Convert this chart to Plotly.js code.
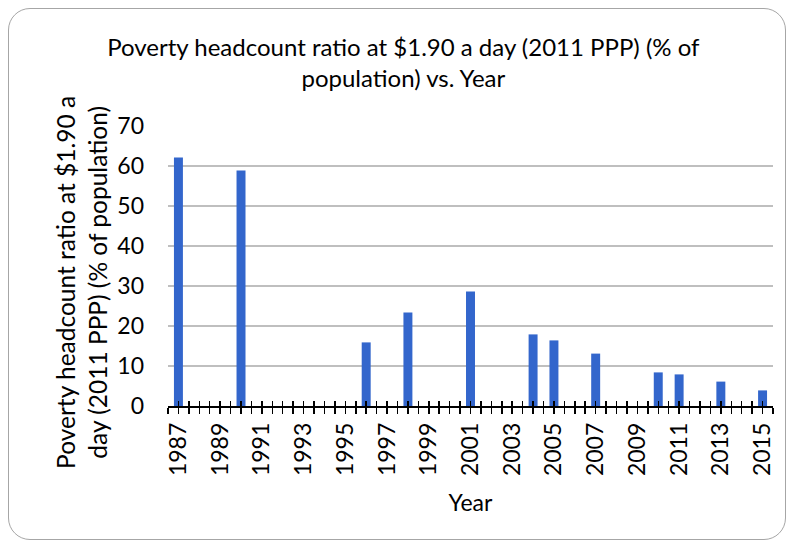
<!DOCTYPE html>
<html>
<head>
<meta charset="utf-8">
<script src="https://cdn.plot.ly/plotly-3.0.1.min.js"></script>
<style>
  html, body { margin: 0; padding: 0; background: #ffffff; }
  #wrap { position: relative; width: 794px; height: 548px; }
  #frame {
    position: absolute; left: 8px; top: 8px; width: 776px; height: 530px;
    border: 1.5px solid #a6a6a6; border-radius: 22px; pointer-events: none;
  }
  #chart { position: absolute; left: 0; top: 0; width: 794px; height: 548px; }
</style>
</head>
<body>
<div id="wrap">
  <div id="chart"></div>
  <div id="frame"></div>
</div>
<script>
// Poverty headcount ratio at $1.90 a day (2011 PPP), % of population
const years = [1987, 1990, 1996, 1998, 2001, 2004, 2005, 2007, 2010, 2011, 2013, 2015];
const ratio = [62.1, 58.9, 15.9, 23.4, 28.6, 17.9, 16.4, 13.1, 8.4, 7.9, 6.1, 3.9];

const yearLabels = ['1987', '1989', '1991', '1993', '1995', '1997', '1999',
                    '2001', '2003', '2005', '2007', '2009', '2011', '2013', '2015'];

const FONT = 'Lato, "Open Sans", sans-serif';
const xRange = [1986.5, 2015.5];

// half-year tick positions across the axis; labels only on the labelled years
const tickPos = [];
const tickTxt = [];
for (let t = xRange[0]; t <= xRange[1] + 1e-9; t += 0.5) {
  tickPos.push(t);
  const s = String(t);
  tickTxt.push(yearLabels.includes(s) ? s : '');
}

const bars = {
  type: 'bar',
  x: years,
  y: ratio,
  width: 0.43,
  marker: { color: '#3366cc' },
  hoverinfo: 'x+y'
};

const layout = {
  width: 794,
  height: 548,
  paper_bgcolor: 'rgba(0,0,0,0)',
  plot_bgcolor: 'rgba(0,0,0,0)',
  margin: { l: 168, r: 21, t: 126, b: 142, pad: 0 },
  showlegend: false,
  font: { family: FONT, size: 23, color: '#000000' },
  title: {
    text: 'Poverty headcount ratio at $1.90 a day (2011 PPP) (% of<br>population) vs. Year',
    font: { family: FONT, size: 24, color: '#000000' },
    x: 0.508, xanchor: 'center', y: 0.898, yanchor: 'top'
  },
  xaxis: {
    range: xRange,
    tickmode: 'array',
    tickvals: tickPos,
    ticktext: tickTxt,
    tickangle: -90,
    ticks: 'outside',
    ticklen: 6,
    tickwidth: 1.5,
    tickcolor: '#000000',
    showline: true,
    linecolor: '#000000',
    linewidth: 1.5,
    showgrid: false,
    zeroline: false,
    tickfont: { family: FONT, size: 23, color: '#000000' },
    title: { text: 'Year', font: { family: FONT, size: 23, color: '#000000' }, standoff: 20 }
  },
  xaxis2: {
    overlaying: 'x',
    matches: 'x',
    anchor: 'y',
    side: 'bottom',
    tickmode: 'array',
    tickvals: tickPos,
    showticklabels: false,
    ticks: 'inside',
    ticklen: 5,
    tickwidth: 1.5,
    tickcolor: '#000000',
    showline: false,
    showgrid: false,
    zeroline: false
  },
  yaxis: {
    range: [0, 70],
    dtick: 10,
    tick0: 0,
    ticks: '',
    showline: false,
    showgrid: true,
    gridcolor: '#bfbfbf',
    gridwidth: 1.5,
    zeroline: false,
    tickfont: { family: FONT, size: 23, color: '#000000' },
    ticklabelstandoff: 23
  },
  // vertical axis title, two lines, set as a rotated annotation
  annotations: [{
    text: 'Poverty headcount ratio at $1.90 a<br>day (2011 PPP) (% of population)',
    font: { family: FONT, size: 24.5, color: '#000000' },
    textangle: -90,
    xref: 'paper', yref: 'paper',
    x: -0.142, y: 0.44,
    xanchor: 'center', yanchor: 'middle',
    showarrow: false
  }]
};

// empty companion trace so the inner tick axis is laid out
const tickCarrier = { type: 'scatter', x: [], y: [], xaxis: 'x2', yaxis: 'y', hoverinfo: 'skip', showlegend: false };

Plotly.newPlot('chart', [bars, tickCarrier], layout, { displayModeBar: false, staticPlot: true });
</script>
</body>
</html>
